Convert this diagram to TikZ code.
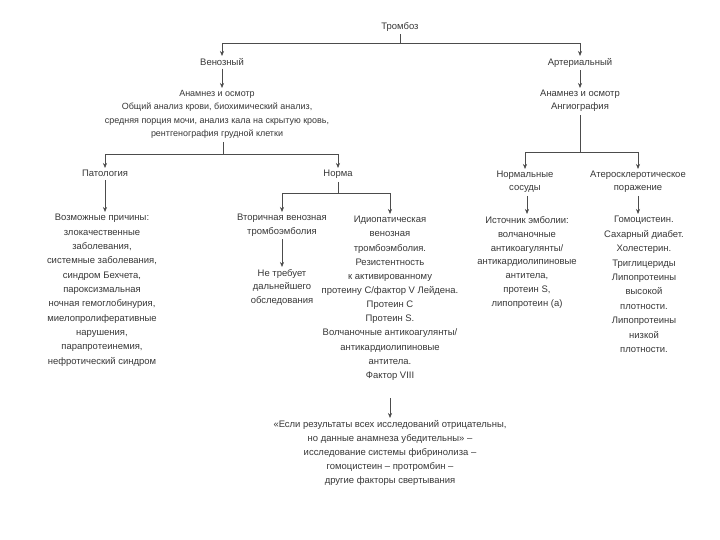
\documentclass[tikz,border=0pt]{standalone}
\usepackage{fontspec}
\setmainfont{Liberation Sans}
\usetikzlibrary{arrows.meta}
\begin{document}
\begin{tikzpicture}[x=1bp,y=-1bp,
  txt/.style={font=\fontsize{9.5}{14}\selectfont, align=center, inner sep=0pt, anchor=north, text=black!78},
  ln/.style={draw=black!70, line width=0.6bp},
  arr/.style={ln, -{Stealth[length=5bp,width=4bp]}, shorten >=2bp},
  gap/.style={shorten <=3bp}]
\useasboundingbox[fill=white] (0,0) rectangle (720,540);

\node[txt] (t) at (400,22) {Тромбоз};
\node[txt] (ven) at (222,58) {Венозный};
\node[txt] (art) at (580,58) {Артериальный};
\node[txt, font=\fontsize{9}{13.5}\selectfont] (va) at (217,90) {Анамнез и осмотр\\Общий анализ крови, биохимический анализ,\\средняя порция мочи, анализ кала на скрытую кровь,\\рентгенография грудной клетки};
\node[txt, font=\fontsize{9.5}{13}\selectfont] (aa) at (580,90) {Анамнез и осмотр\\Ангиография};
\node[txt] (pat) at (105,170) {Патология};
\node[txt] (norm) at (338,170) {Норма};
\node[txt, font=\fontsize{9.5}{14.4}\selectfont] (causes) at (102,214) {Возможные причины:\\злокачественные\\заболевания,\\системные заболевания,\\синдром Бехчета,\\пароксизмальная\\ночная гемоглобинурия,\\миелопролиферативные\\нарушения,\\парапротеинемия,\\нефротический синдром};
\node[txt, font=\fontsize{9.5}{13.5}\selectfont] (sec) at (282,214) {Вторичная венозная\\тромбоэмболия};
\node[txt, font=\fontsize{9.5}{13.5}\selectfont] (nt) at (282,269) {Не требует\\дальнейшего\\обследования};
\node[txt, font=\fontsize{9.5}{14.2}\selectfont] (idio) at (390,216) {Идиопатическая\\венозная\\тромбоэмболия.\\Резистентность\\к активированному\\протеину C/фактор V Лейдена.\\Протеин C\\Протеин S.\\Волчаночные антикоагулянты/\\антикардиолипиновые\\антитела.\\Фактор VIII};
\node[txt] (bot) at (390,420) {«Если результаты всех исследований отрицательны,\\но данные анамнеза убедительны» –\\исследование системы фибринолиза –\\гомоцистеин – протромбин –\\другие факторы свертывания};
\node[txt, font=\fontsize{9.5}{13}\selectfont] (ns) at (525,171) {Нормальные\\сосуды};
\node[txt, font=\fontsize{9.5}{13}\selectfont] (ath) at (638,171) {Атеросклеротическое\\поражение};
\node[txt] (src) at (527,216) {Источник эмболии:\\волчаночные\\антикоагулянты/\\антикардиолипиновые\\антитела,\\протеин S,\\липопротеин (а)};
\node[txt, font=\fontsize{9.5}{14.5}\selectfont] (hom) at (644,216) {Гомоцистеин.\\Сахарный диабет.\\Холестерин.\\Триглицериды\\Липопротеины\\высокой\\плотности.\\Липопротеины\\низкой\\плотности.};

\coordinate (b1) at (400,43);
\coordinate (b2) at (223,154);
\coordinate (b3) at (338,193);
\coordinate (b4) at (580,152);

\draw[ln, gap] (t.south) -- (b1);
\draw[arr] (b1) -| (ven.north);
\draw[arr] (b1) -| (art.north);
\draw[arr, gap] (ven.south) -- (ven.south |- va.north);
\draw[ln, gap] (b2 |- va.south) -- (b2);
\draw[arr] (b2) -| (pat.north);
\draw[arr] (b2) -| (norm.north);
\draw[arr, gap] (pat.south) -- (pat.south |- causes.north);
\draw[ln, gap] (norm.south) -- (b3);
\draw[arr] (b3) -| (sec.north);
\draw[arr] (b3) -| (idio.north);
\draw[arr, gap] (sec.south) -- (nt.north);
\draw[arr, shorten <=18bp] (idio.south) -- (bot.north);
\draw[arr, gap] (art.south) -- (aa.north);
\draw[ln, gap] (aa.south) -- (b4);
\draw[arr] (b4) -| (ns.north);
\draw[arr] (b4) -| (ath.north);
\draw[arr, gap] (ns.south -| src.north) -- (src.north);
\draw[arr, gap] (ath.south) -- (ath.south |- hom.north);
\end{tikzpicture}
\end{document}
